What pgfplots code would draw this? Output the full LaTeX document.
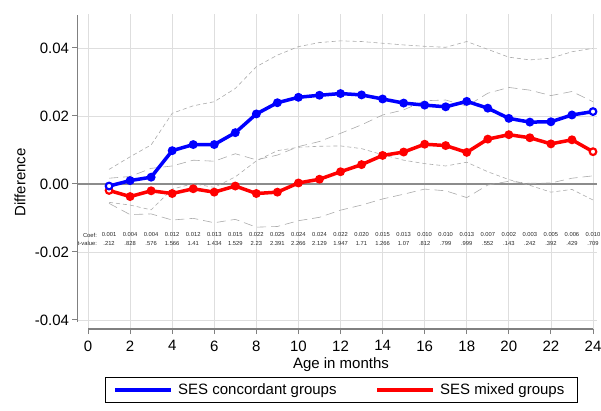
\documentclass[border=0pt]{standalone}
\usepackage{fontspec}
\setmainfont{Liberation Sans}
\usepackage{pgfplots}
\usepackage{pgfplotstable}
\pgfplotsset{compat=1.18}

\pgfplotstableread{
m conc concup conclo mix mixup mixlo
1 -0.0006 0.0043 -0.0054 -0.0019 0.0017 -0.0057
2 0.0010 0.0080 -0.0062 -0.0037 0.0022 -0.0090
3 0.0020 0.0115 -0.0076 -0.0020 0.0046 -0.0088
4 0.0098 0.0208 -0.0015 -0.0028 0.0053 -0.0106
5 0.0116 0.0230 0.0001 -0.0014 0.0070 -0.0101
6 0.0116 0.0242 -0.0010 -0.0024 0.0067 -0.0114
7 0.0151 0.0281 0.0021 -0.0006 0.0089 -0.0104
8 0.0206 0.0345 0.0068 -0.0028 0.0071 -0.0127
9 0.0239 0.0379 0.0098 -0.0024 0.0085 -0.0125
10 0.0255 0.0404 0.0108 0.0003 0.0110 -0.0108
11 0.0261 0.0416 0.0111 0.0014 0.0125 -0.0098
12 0.0266 0.0421 0.0112 0.0036 0.0149 -0.0077
13 0.0262 0.0419 0.0104 0.0057 0.0174 -0.0062
14 0.0250 0.0414 0.0086 0.0084 0.0203 -0.0044
15 0.0238 0.0409 0.0070 0.0094 0.0218 -0.0030
16 0.0232 0.0405 0.0060 0.0117 0.0245 -0.0015
17 0.0227 0.0402 0.0053 0.0113 0.0247 -0.0020
18 0.0243 0.0419 0.0064 0.0093 0.0229 -0.0040
19 0.0223 0.0396 0.0036 0.0132 0.0267 -0.0003
20 0.0193 0.0373 0.0013 0.0145 0.0284 0.0008
21 0.0182 0.0365 -0.0004 0.0136 0.0276 0.0002
22 0.0183 0.0370 -0.0024 0.0118 0.0260 0.0003
23 0.0203 0.0389 -0.0016 0.0130 0.0272 0.0017
24 0.0213 0.0399 -0.0047 0.0095 0.0242 0.0024
}\data

\pgfplotstableread{
m coef tval
1 0.001 .212
2 0.004 .828
3 0.004 .576
4 0.012 1.566
5 0.012 1.41
6 0.013 1.434
7 0.015 1.529
8 0.022 2.23
9 0.025 2.391
10 0.024 2.266
11 0.024 2.129
12 0.022 1.947
13 0.020 1.71
14 0.015 1.266
15 0.013 1.07
16 0.010 .812
17 0.010 .799
18 0.013 .999
19 0.007 .552
20 0.002 .143
21 0.003 .242
22 0.005 .392
23 0.006 .429
24 0.010 .709
}\ann

\begin{document}
\begin{tikzpicture}
\begin{axis}[
  name=ax,
  scale only axis, width=519.7pt, height=315pt,
  xmin=-0.5, xmax=24.2, ymin=-0.04265, ymax=0.05,
  axis x line*=bottom, axis y line*=left,
  x axis line style={draw=none}, y axis line style={draw=none},
  xtick={0,2,...,24}, ytick={-0.04,-0.02,0,0.02,0.04},
  scaled y ticks=false,
  tick align=outside, major tick length=5pt,
  tick style={color=black!50, line width=1pt},
  xmajorgrids, ymajorgrids,
  grid style={color=black!13, line width=0.8pt},
  extra y ticks={0}, extra y tick labels={},
  extra y tick style={major tick length=0pt, grid style={color=black!45, line width=1.6pt}},
  yticklabel style={/pgf/number format/.cd, fixed, fixed zerofill, precision=2},
  xticklabel style={yshift=-3pt},
  /pgf/number format/assume math mode=true,
  ticklabel style={font=\fontsize{15}{18}\selectfont, text=black},
  xlabel={Age in months}, ylabel={Difference},
  label style={font=\fontsize{15}{18}\selectfont},
  xlabel style={at={(axis description cs:0.507,-0.112)}, anchor=center},
  ylabel style={at={(axis description cs:-0.1106,0.4655)}, anchor=center, rotate=0},
  clip=false,
  legend columns=2,
  legend style={at={(axis description cs:0.508,-0.1524)}, anchor=north, draw=black, line width=0.6pt,
    font=\fontsize{15}{18}\selectfont, inner xsep=8pt, inner ysep=4.5pt,
    nodes={inner xsep=5pt},
    /tikz/every even column/.append style={column sep=34pt}},
  legend image code/.code={\draw[#1] (0pt,0pt) -- (56pt,0pt);},
]
% confidence bands
\addplot[forget plot, black!33, line width=0.6pt, dash pattern=on 4pt off 3pt] table[x=m,y=concup]{\data};
\addplot[forget plot, black!33, line width=0.6pt, dash pattern=on 4pt off 3pt] table[x=m,y=conclo]{\data};
\addplot[forget plot, black!33, line width=0.6pt, dash pattern=on 9pt off 5pt] table[x=m,y=mixup]{\data};
\addplot[forget plot, black!33, line width=0.6pt, dash pattern=on 9pt off 5pt] table[x=m,y=mixlo]{\data};
% annotations
\addplot[forget plot, draw=none, nodes near coords, point meta=explicit symbolic,
  every node near coord/.append style={anchor=center, inner sep=0pt, font=\fontsize{5.8}{6}\selectfont, text=black!85}]
  table[x=m, y expr=-0.0150, meta=coef]{\ann};
\addplot[forget plot, draw=none, nodes near coords, point meta=explicit symbolic,
  every node near coord/.append style={anchor=center, inner sep=0pt, font=\fontsize{5.8}{6}\selectfont, text=black!85}]
  table[x=m, y expr=-0.0174, meta=tval]{\ann};
\node[anchor=east, inner sep=0pt, font=\fontsize{5.8}{6}\selectfont, text=black!85] at (axis cs:0.43,-0.0150) {Coef:};
\node[anchor=east, inner sep=0pt, font=\fontsize{5.8}{6}\selectfont, text=black!85] at (axis cs:0.43,-0.0174) {t-value:};
% series
\addplot[forget plot, red, line width=3.5pt, mark=*, mark size=2.6pt, mark options={solid}] table[x=m,y=mix]{\data};
\addplot[forget plot, red, only marks, mark=*, mark size=2.8pt, mark options={fill=white, draw=red, line width=1.2pt}, mark indices={1,24}] table[x=m,y=mix]{\data};
\addplot[forget plot, blue, line width=3.5pt, mark=*, mark size=2.6pt, mark options={solid}] table[x=m,y=conc]{\data};
\addplot[forget plot, blue, only marks, mark=*, mark size=2.8pt, mark options={fill=white, draw=blue, line width=1.2pt}, mark indices={1,24}] table[x=m,y=conc]{\data};
\addlegendimage{blue, line width=3.5pt}
\addlegendentry{SES concordant groups}
\addlegendimage{red, line width=3.5pt}
\addlegendentry{SES mixed groups}
% axis lines
\draw[black!50, line width=1.2pt] (axis cs:-0.5,-0.0405) -- (axis cs:-0.5,0.0497);
\draw[black!50, line width=1.2pt] (axis cs:0,-0.04265) -- (axis cs:24,-0.04265);
\end{axis}
\pgfresetboundingbox
\path (ax.south west) ++(-77.5pt,-81pt) rectangle ++(601pt,410pt);
\end{tikzpicture}
\end{document}
